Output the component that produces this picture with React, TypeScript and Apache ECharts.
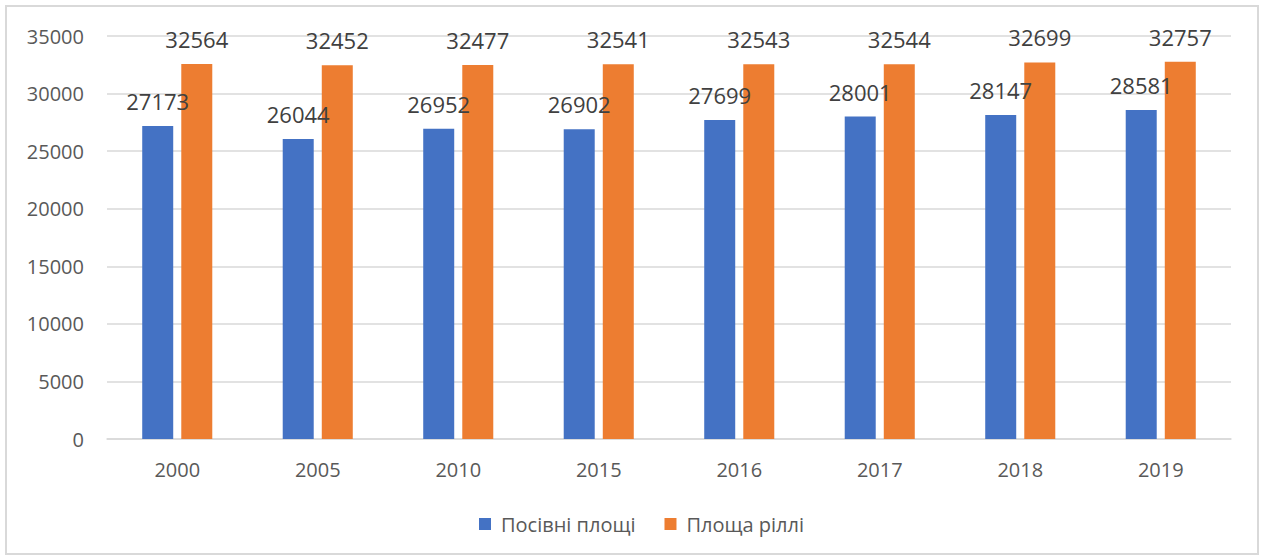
import React, { useEffect, useRef } from "react";
import * as echarts from "echarts";

const categories = ["2000", "2005", "2010", "2015", "2016", "2017", "2018", "2019"];
const sownArea = [27173, 26044, 26952, 26902, 27699, 28001, 28147, 28581];
const arableArea = [32564, 32452, 32477, 32541, 32543, 32544, 32699, 32757];
const seriesNames = ["Посівні площі", "Площа ріллі"];

export default function App() {
  const ref = useRef<HTMLDivElement>(null);
  useEffect(() => {
    document.body.style.margin = "0";
    const chart = echarts.init(ref.current!, null, { renderer: "svg" });
    const font = "'Open Sans', 'Noto Sans', sans-serif";
    chart.setOption({
      animation: false,
      textStyle: { fontFamily: font },
      grid: { left: 100, right: 26, top: 29, bottom: 114, containLabel: false },
      legend: {
        top: 502,
        left: 467,
        itemWidth: 12,
        itemHeight: 12,
        itemGap: 29,
        icon: "rect",
        textStyle: { color: "#595959", fontSize: 20, fontFamily: font, padding: [0, 0, 0, 5] },
        data: seriesNames,
      },
      xAxis: {
        type: "category",
        data: categories,
        axisLine: { lineStyle: { color: "#d9d9d9", width: 1.5 } },
        axisTick: { show: false },
        axisLabel: { color: "#595959", fontSize: 20, margin: 20, fontFamily: font },
      },
      yAxis: {
        type: "value",
        min: 0,
        max: 35000,
        interval: 5000,
        axisLine: { show: false },
        axisTick: { show: false },
        splitLine: { lineStyle: { color: "#d9d9d9", width: 1.5 } },
        axisLabel: {
          color: "#595959",
          fontSize: 20,
          margin: 23,
          fontFamily: font,
          formatter: (v: number) => String(v),
        },
      },
      series: [
        {
          name: seriesNames[0],
          type: "bar",
          data: sownArea,
          barWidth: 31,
          barGap: "26%",
          itemStyle: { color: "#4472c4" },
          label: { show: true, position: "top", distance: 14, color: "#404040", fontSize: 22, fontFamily: font },
        },
        {
          name: seriesNames[1],
          type: "bar",
          data: arableArea,
          barWidth: 31,
          barGap: "26%",
          itemStyle: { color: "#ed7d31" },
          label: { show: true, position: "top", distance: 14, color: "#404040", fontSize: 22, fontFamily: font },
        },
      ],
    });
    return () => chart.dispose();
  }, []);
  return (
    <div style={{ position: "fixed", left: 0, top: 0, width: 1261, height: 558, background: "#fff" }}>
      <div
        style={{
          position: "absolute",
          left: 5,
          top: 5,
          width: 1250,
          height: 546,
          border: "2px solid #d9d9d9",
        }}
      >
        <div ref={ref} style={{ width: 1250, height: 546 }} />
      </div>
    </div>
  );
}
